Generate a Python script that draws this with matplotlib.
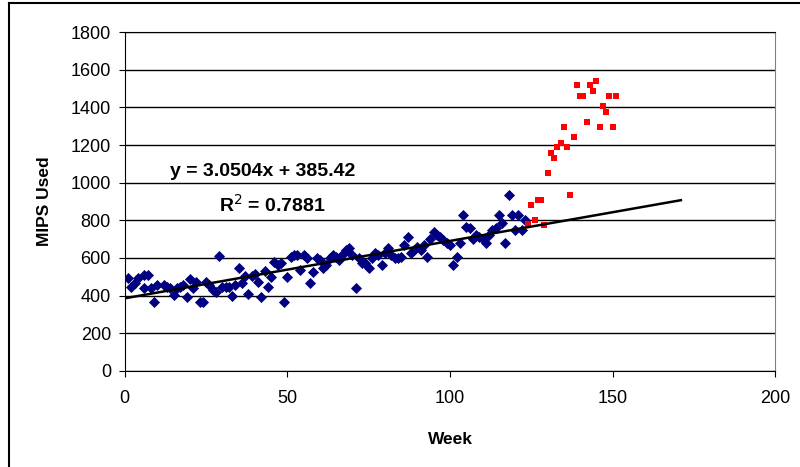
import numpy as np
import matplotlib.pyplot as plt
from matplotlib.lines import Line2D

plt.rcParams['font.family'] = ['Liberation Sans', 'DejaVu Sans']

# weekly MIPS usage (blue = history, red = recent weeks)
weeks = [1, 2, 3, 4, 6, 6, 7, 8, 9, 10, 12, 13, 14, 15, 16, 17, 18, 19, 20, 21,
         22, 23, 24, 25, 26, 27, 28, 29, 30, 31, 32, 33, 34, 35, 36, 37, 38, 39, 40, 41,
         42, 43, 44, 45, 46, 47, 48, 49, 50, 51, 52, 53, 54, 55, 56, 57, 58, 59, 60, 61,
         62, 63, 64, 65, 66, 67, 68, 69, 70, 71, 72, 73, 74, 75, 76, 77, 78, 79, 80, 81,
         82, 83, 84, 85, 86, 87, 88, 89, 90, 91, 92, 93, 94, 95, 96, 97, 98, 99, 100, 101,
         102, 103, 104, 105, 106, 107, 108, 109, 110, 111, 112, 113, 114, 115, 116, 117, 118, 119, 120, 121,
         122, 123]
mips = [491, 447, 465, 491, 509, 442, 509, 438, 367, 456, 456, 443, 438, 403, 438, 447, 456, 390, 486, 438,
        473, 367, 367, 473, 456, 429, 420, 610, 447, 443, 447, 397, 456, 544, 468, 504, 408, 504, 514, 473,
        390, 532, 447, 500, 580, 562, 571, 364, 500, 607, 615, 615, 536, 615, 598, 468, 527, 598, 589, 544,
        562, 598, 615, 607, 589, 621, 642, 651, 615, 438, 598, 571, 571, 544, 598, 624, 615, 562, 624, 651,
        615, 598, 598, 607, 669, 709, 624, 642, 660, 642, 669, 607, 699, 739, 722, 709, 695, 677, 669, 562,
        607, 681, 828, 766, 757, 699, 722, 713, 699, 681, 722, 748, 757, 828, 787, 681, 935, 828, 748, 828,
        748, 802]

recent_weeks = [124, 125, 126, 127, 128, 129, 130, 131, 132, 133, 134, 135, 136, 137, 138, 139,
                140, 141, 142, 143, 144, 145, 146, 147, 148, 149, 150, 151]
recent_mips = [780, 881, 802, 908, 908, 775, 1050, 1160, 1133, 1192, 1213, 1295, 1188, 935, 1241, 1520,
               1461, 1461, 1325, 1520, 1490, 1541, 1295, 1408, 1378, 1461, 1295, 1461]

slope = 3.0504
intercept = 385.42
trend_end = 171

fig = plt.figure(figsize=(8, 4.67), dpi=100)
ax = fig.add_axes([0.156, 0.206, 0.813, 0.725])

ax.set_xlim(0, 200)
ax.set_ylim(0, 1800)
ax.set_yticks(np.arange(0, 1801, 200))
ax.set_xticks(np.arange(0, 201, 50))
ax.yaxis.grid(True, color='black', linewidth=1)
ax.set_axisbelow(True)

ax.scatter(weeks, mips, marker='D', s=32, color='#000080', zorder=3, linewidths=0)
ax.scatter(recent_weeks, recent_mips, marker='s', s=24, color='#ff0000', zorder=3, linewidths=0)

tx = np.array([0, trend_end])
ax.plot(tx, slope * tx + intercept, color='black', linewidth=1.8, zorder=4)

ax.text(13.8, 1057, 'y = 3.0504x + 385.42', fontsize=14, fontweight='bold', va='center')
ax.text(29, 881, 'R$^2$ = 0.7881', fontsize=14, fontweight='bold', va='center')

ax.set_xlabel('Week', fontsize=12.5, fontweight='bold', labelpad=18)
ax.set_ylabel('MIPS Used', fontsize=12.5, fontweight='bold', labelpad=13)
ax.tick_params(labelsize=13, direction='out', length=4, color='black')
ax.tick_params(axis='x', pad=10)
ax.tick_params(axis='y', pad=6)

for side in ['right']:
    ax.spines[side].set_color('#808080')
for side in ['left', 'bottom', 'top']:
    ax.spines[side].set_color('black')

# outer chart border
fig.add_artist(Line2D([0.011, 0.011], [0, 0.994], color='black', linewidth=1.5, transform=fig.transFigure))
fig.add_artist(Line2D([0.011, 1], [0.994, 0.994], color='black', linewidth=1.5, transform=fig.transFigure))

fig.savefig('out.png', dpi=100, facecolor='white')
